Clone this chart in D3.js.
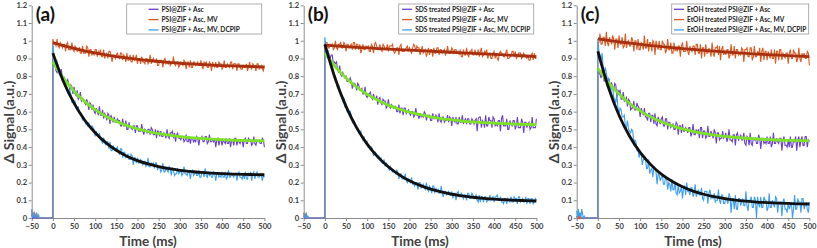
<!DOCTYPE html>
<html>
<head>
<meta charset="utf-8">
<script src="https://cdn.jsdelivr.net/npm/d3@7"></script>
<style>
  body { margin: 0; background: #fff; }
  svg { display: block; }
  text { font-family: Lato, "Open Sans", sans-serif; font-weight: 700; }
</style>
</head>
<body>
<div id="chart"></div>
<script>
////////////////////////////////////////////////////////////////////
////////////////////////////  Data  ////////////////////////////////
// raw traces read every 5 ms (0..500) plus the half steps (2.5..497.5), fits every 25 ms
const sampleTimes = d3.range(0, 501, 5);
const fitTimes = d3.range(0, 501, 25);
const preTimes = [-50, -48, -46, -44, -42, -40, -38, -36, -34, -32, -30, -28, 0];

const xTicks = [-50, 0, 50, 100, 150, 200, 250, 300, 350, 400, 450, 500];
const yTicks = [0, 0.1, 0.2, 0.3, 0.4, 0.5, 0.6, 0.7, 0.8, 0.9, 1, 1.1, 1.2];

const panelLabels = ["(a)", "(b)", "(c)"];
const legendA = ["PSI@ZIF + Asc", "PSI@ZIF + Asc, MV", "PSI@ZIF + Asc, MV, DCPIP"];
const legendB = ["SDS treated PSI@ZIF + Asc", "SDS treated PSI@ZIF + Asc, MV", "SDS treated PSI@ZIF + Asc, MV, DCPIP"];
const legendC = ["EtOH treated PSI@ZIF + Asc", "EtOH treated PSI@ZIF + Asc, MV", "EtOH treated PSI@ZIF + Asc, MV, DCPIP"];

// (a) PSI@ZIF
const prePurpleA = [0.02, 0, 0.01, 0, 0, 0.01, 0, 0, 0, 0, 0, 0, 0];
const preOrangeA = [0.04, 0.01, 0.02, 0.03, 0, 0.02, 0.01, 0, 0, 0, 0, 0, 0];
const preBlueA = [0.05, 0, 0.03, 0.01, 0, 0.01, 0.03, 0, 0.02, 0, 0, 0, 0];
const purpleA = [0.87,0.88,0.82,0.84,0.84, 0.77,0.77,0.78,0.72,0.74, 0.74,0.69,0.67,0.71,0.67,
  0.65,0.67,0.61,0.64,0.64, 0.59,0.60,0.63,0.58,0.56, 0.58,0.59,0.53,0.56,0.57,
  0.54,0.55,0.52,0.56,0.52, 0.50,0.54,0.51,0.52,0.48, 0.52,0.49,0.53,0.47,0.49,
  0.50,0.47,0.50,0.47,0.45, 0.49,0.49,0.46,0.47,0.50, 0.45,0.48,0.45,0.43,0.48,
  0.45,0.46,0.43,0.47,0.43, 0.42,0.45,0.44,0.46,0.41, 0.45,0.43,0.46,0.42,0.47,
  0.43,0.43,0.40,0.45,0.44, 0.41,0.43,0.45,0.42,0.40, 0.44,0.45,0.41,0.43,0.44,
  0.40,0.45,0.42,0.44,0.41, 0.46,0.41,0.43,0.42,0.45, 0.40];
const purpleAMid = [0.86,0.83,0.85,0.80,0.79, 0.79,0.76,0.76,0.75,0.70, 0.70,0.72,0.68,0.66,0.67,
  0.64,0.65,0.65,0.61,0.60, 0.62,0.58,0.58,0.61,0.59, 0.55,0.58,0.58,0.54,0.54,
  0.56,0.55,0.52,0.52,0.55, 0.50,0.51,0.50,0.52,0.52, 0.49,0.49,0.49,0.50,0.48,
  0.50,0.51,0.47,0.50,0.49, 0.46,0.46,0.48,0.45,0.46, 0.48,0.49,0.48,0.47,0.45,
  0.44,0.46,0.44,0.43,0.46, 0.45,0.43,0.43,0.45,0.45, 0.46,0.43,0.46,0.43,0.43,
  0.44,0.45,0.44,0.41,0.44, 0.44,0.42,0.42,0.45,0.44, 0.41,0.45,0.44,0.42,0.44,
  0.44,0.42,0.45,0.44,0.42, 0.42,0.44,0.44,0.42,0.44];
const orangeA = [1.01,0.98,1.01,0.96,0.98, 0.98,0.94,0.99,0.95,0.99, 0.94,0.96,0.95,0.93,0.97,
  0.93,0.97,0.91,0.95,0.93, 0.95,0.91,0.93,0.91,0.95, 0.92,0.90,0.94,0.88,0.92,
  0.92,0.91,0.93,0.89,0.91, 0.93,0.89,0.88,0.92,0.90, 0.87,0.90,0.91,0.88,0.90,
  0.87,0.92,0.89,0.88,0.90, 0.86,0.89,0.85,0.90,0.88, 0.89,0.87,0.91,0.86,0.88,
  0.86,0.87,0.89,0.84,0.88, 0.89,0.85,0.88,0.87,0.86, 0.89,0.84,0.87,0.85,0.88,
  0.83,0.86,0.88,0.85,0.87, 0.84,0.89,0.85,0.86,0.88, 0.84,0.87,0.83,0.87,0.84,
  0.86,0.85,0.83,0.88,0.84, 0.86,0.83,0.87,0.85,0.84, 0.86];
const orangeAMid = [0.98,0.97,0.97,0.99,0.96, 0.98,0.98,0.95,0.95,0.95, 0.97,0.94,0.96,0.93,0.93,
  0.93,0.96,0.95,0.92,0.92, 0.95,0.94,0.95,0.91,0.90, 0.93,0.94,0.92,0.92,0.90,
  0.93,0.90,0.93,0.92,0.88, 0.89,0.92,0.88,0.89,0.92, 0.90,0.87,0.88,0.87,0.90,
  0.88,0.87,0.90,0.88,0.86, 0.89,0.89,0.89,0.87,0.87, 0.86,0.87,0.87,0.88,0.85,
  0.88,0.86,0.88,0.88,0.85, 0.85,0.88,0.86,0.88,0.86, 0.86,0.88,0.88,0.85,0.87,
  0.88,0.85,0.85,0.88,0.87, 0.85,0.85,0.87,0.85,0.88, 0.87,0.87,0.87,0.85,0.84,
  0.85,0.87,0.85,0.85,0.87, 0.86,0.87,0.84,0.86,0.83];
const blueA = [0.98,0.89,0.88,0.81,0.81, 0.79,0.74,0.72,0.72,0.65, 0.66,0.62,0.63,0.59,0.55,
  0.56,0.53,0.54,0.50,0.51, 0.46,0.47,0.48,0.44,0.45, 0.41,0.43,0.43,0.38,0.39,
  0.39,0.37,0.39,0.34,0.37, 0.35,0.33,0.36,0.30,0.34, 0.34,0.31,0.32,0.32,0.29,
  0.34,0.29,0.30,0.28,0.31, 0.29,0.26,0.31,0.26,0.27, 0.29,0.24,0.27,0.25,0.28,
  0.26,0.24,0.29,0.25,0.26, 0.22,0.27,0.25,0.24,0.27, 0.23,0.26,0.28,0.23,0.24,
  0.23,0.26,0.21,0.25,0.24, 0.26,0.23,0.22,0.27,0.23, 0.24,0.25,0.21,0.26,0.23,
  0.25,0.26,0.22,0.24,0.21, 0.26,0.25,0.23,0.25,0.21, 0.23];
const blueAMid = [0.92,0.86,0.86,0.83,0.77, 0.75,0.74,0.70,0.70,0.67, 0.66,0.61,0.59,0.59,0.57,
  0.53,0.52,0.51,0.52,0.50, 0.49,0.46,0.44,0.42,0.44, 0.43,0.39,0.38,0.41,0.38,
  0.40,0.36,0.39,0.37,0.34, 0.36,0.33,0.35,0.34,0.31, 0.31,0.33,0.30,0.32,0.30,
  0.29,0.31,0.31,0.31,0.27, 0.29,0.27,0.26,0.28,0.26, 0.28,0.28,0.24,0.25,0.25,
  0.27,0.25,0.25,0.24,0.26, 0.26,0.24,0.26,0.24,0.23, 0.26,0.23,0.24,0.26,0.25,
  0.23,0.25,0.25,0.23,0.23, 0.23,0.26,0.23,0.23,0.25, 0.23,0.25,0.25,0.23,0.22,
  0.22,0.22,0.25,0.26,0.25, 0.22,0.26,0.23,0.25,0.24];
const mvFitA = [0.990,0.972,0.957,0.943,0.931,0.920,0.911,0.903,0.895,0.889,0.883,
  0.878,0.873,0.870,0.866,0.863,0.860,0.858,0.856,0.854,0.852];
const ascFitA = [0.880,0.789,0.716,0.658,0.611,0.574,0.545,0.522,0.503,0.488,0.476,
  0.467,0.459,0.453,0.449,0.445,0.442,0.439,0.438,0.436,0.435];
const dcpipFitA = [0.930,0.770,0.648,0.553,0.481,0.425,0.382,0.349,0.324,0.305,0.290,
  0.278,0.269,0.263,0.257,0.253,0.250,0.248,0.246,0.245,0.244];

// (b) SDS treated
const prePurpleB = [0.01, 0, 0, 0.01, 0, 0, 0, 0, 0, 0, 0, 0, 0];
const preOrangeB = [0.03, 0, 0.02, 0.01, 0, 0, 0, 0, 0, 0, 0, 0, 0];
const preBlueB = [0.02, 0.01, 0, 0.03, 0, 0.01, 0, 0, 0, 0, 0, 0, 0];
const purpleB = [0.96,0.93,0.92,0.92,0.87, 0.87,0.84,0.86,0.80,0.80, 0.80,0.77,0.79,0.73,0.76,
  0.72,0.75,0.72,0.70,0.74, 0.68,0.70,0.68,0.70,0.67, 0.64,0.68,0.64,0.66,0.62,
  0.67,0.62,0.63,0.63,0.60, 0.64,0.62,0.58,0.62,0.60, 0.59,0.60,0.57,0.62,0.58,
  0.59,0.58,0.60,0.55,0.58, 0.55,0.59,0.56,0.57,0.59, 0.54,0.57,0.55,0.58,0.57,
  0.52,0.55,0.57,0.53,0.54, 0.58,0.55,0.53,0.56,0.53, 0.55,0.55,0.49,0.57,0.51,
  0.54,0.58,0.52,0.55,0.51, 0.56,0.53,0.55,0.49,0.58, 0.52,0.56,0.50,0.53,0.55,
  0.50,0.57,0.51,0.56,0.48, 0.54,0.53,0.50,0.57,0.51, 0.56];
const purpleBMid = [0.92,0.94,0.90,0.92,0.88, 0.88,0.82,0.81,0.82,0.79, 0.77,0.77,0.77,0.76,0.75,
  0.76,0.72,0.73,0.70,0.69, 0.70,0.71,0.67,0.67,0.69, 0.67,0.65,0.67,0.66,0.63,
  0.63,0.64,0.62,0.63,0.60, 0.59,0.62,0.62,0.59,0.61, 0.58,0.60,0.58,0.58,0.56,
  0.57,0.57,0.59,0.58,0.58, 0.55,0.56,0.58,0.54,0.55, 0.57,0.54,0.55,0.54,0.56,
  0.57,0.54,0.53,0.57,0.54, 0.53,0.56,0.56,0.53,0.56, 0.53,0.56,0.56,0.57,0.55,
  0.51,0.52,0.57,0.55,0.57, 0.52,0.52,0.55,0.56,0.52, 0.52,0.50,0.55,0.52,0.55,
  0.52,0.51,0.51,0.54,0.54, 0.51,0.54,0.51,0.51,0.51];
const orangeB = [0.98,0.99,0.96,0.97,0.95, 1.00,0.95,0.98,0.96,0.99, 0.94,0.98,0.97,0.95,0.99,
  0.98,0.95,0.93,0.98,0.95, 0.96,0.94,0.98,0.93,0.99, 0.95,0.98,0.94,0.97,0.95,
  0.94,0.97,0.98,0.93,0.96, 0.92,0.98,0.94,0.95,0.97, 0.96,0.93,0.98,0.94,0.96,
  0.92,0.97,0.94,0.91,0.96, 0.95,0.91,0.93,0.96,0.92, 0.95,0.94,0.92,0.97,0.93,
  0.96,0.93,0.95,0.94,0.95, 0.91,0.92,0.96,0.91,0.94, 0.92,0.95,0.92,0.91,0.96,
  0.92,0.93,0.90,0.93,0.90, 0.94,0.93,0.89,0.94,0.92, 0.91,0.95,0.90,0.91,0.94,
  0.94,0.91,0.93,0.90,0.93, 0.91,0.92,0.89,0.93,0.93, 0.90];
const orangeBMid = [0.99,0.96,0.98,0.98,0.96, 0.96,0.98,0.99,0.96,0.98, 0.98,0.96,0.98,0.99,0.95,
  0.98,0.98,0.95,0.95,0.97, 0.97,0.94,0.97,0.98,0.97, 0.95,0.95,0.98,0.95,0.98,
  0.97,0.97,0.94,0.94,0.96, 0.97,0.94,0.94,0.96,0.94, 0.94,0.96,0.97,0.97,0.96,
  0.94,0.93,0.95,0.93,0.92, 0.95,0.96,0.93,0.96,0.95, 0.93,0.95,0.93,0.93,0.93,
  0.95,0.95,0.93,0.92,0.91, 0.95,0.92,0.92,0.94,0.95, 0.92,0.92,0.95,0.94,0.91,
  0.94,0.95,0.92,0.90,0.93, 0.90,0.90,0.93,0.93,0.91, 0.93,0.90,0.91,0.94,0.91,
  0.90,0.93,0.93,0.91,0.92, 0.90,0.89,0.92,0.89,0.90];
const blueB = [1.02,0.93,0.92,0.86,0.83, 0.80,0.73,0.72,0.68,0.68, 0.64,0.60,0.60,0.54,0.54,
  0.51,0.48,0.49,0.44,0.43, 0.43,0.40,0.40,0.35,0.37, 0.34,0.33,0.31,0.33,0.31,
  0.28,0.29,0.26,0.26,0.27, 0.22,0.25,0.22,0.25,0.20, 0.21,0.23,0.19,0.20,0.16,
  0.20,0.18,0.17,0.20,0.15, 0.17,0.18,0.14,0.15,0.14, 0.18,0.12,0.15,0.14,0.13,
  0.15,0.14,0.10,0.15,0.12, 0.13,0.13,0.10,0.14,0.11, 0.13,0.12,0.10,0.13,0.12,
  0.09,0.12,0.10,0.13,0.11, 0.09,0.12,0.10,0.12,0.09, 0.11,0.08,0.10,0.12,0.09,
  0.11,0.08,0.12,0.10,0.09, 0.12,0.11,0.08,0.11,0.09, 0.10];
const blueBMid = [0.97,0.94,0.87,0.86,0.79, 0.77,0.75,0.71,0.66,0.63, 0.60,0.59,0.58,0.55,0.52,
  0.51,0.48,0.46,0.46,0.42, 0.40,0.39,0.39,0.37,0.35, 0.35,0.34,0.31,0.29,0.30,
  0.27,0.27,0.27,0.25,0.26, 0.25,0.22,0.22,0.21,0.22, 0.20,0.19,0.18,0.20,0.20,
  0.17,0.19,0.16,0.16,0.18, 0.14,0.18,0.17,0.16,0.14, 0.14,0.15,0.13,0.15,0.13,
  0.11,0.14,0.14,0.12,0.14, 0.11,0.13,0.14,0.11,0.14, 0.11,0.13,0.09,0.09,0.12,
  0.12,0.09,0.10,0.10,0.12, 0.12,0.13,0.10,0.09,0.08, 0.11,0.11,0.09,0.09,0.12,
  0.11,0.12,0.09,0.11,0.09, 0.08,0.11,0.11,0.08,0.11];
const mvFitB = [0.975,0.971,0.967,0.963,0.960,0.956,0.953,0.950,0.947,0.944,0.941,
  0.938,0.935,0.932,0.929,0.926,0.923,0.920,0.917,0.914,0.911];
const ascFitB = [0.930,0.853,0.790,0.739,0.698,0.665,0.637,0.615,0.597,0.583,0.571,
  0.561,0.554,0.547,0.542,0.538,0.535,0.532,0.530,0.528,0.526];
const dcpipFitB = [0.980,0.783,0.630,0.510,0.417,0.345,0.289,0.245,0.210,0.184,0.163,
  0.147,0.134,0.125,0.117,0.111,0.106,0.103,0.100,0.098,0.096];

// (c) EtOH treated
const prePurpleC = [0.01, 0, 0, 0.01, 0, 0, 0, 0, 0, 0, 0, 0, 0];
const preOrangeC = [0.01, 0, 0.02, 0, 0.01, 0, 0, 0, 0, 0, 0, 0, 0];
const preBlueC = [0.04, 0, 0.05, 0.01, 0.03, 0, 0.05, 0.02, 0, 0.01, 0, 0, 0];
const purpleC = [0.81,0.81,0.83,0.77,0.80, 0.79,0.74,0.74,0.76,0.68, 0.71,0.67,0.71,0.67,0.63,
  0.66,0.62,0.66,0.61,0.63, 0.57,0.60,0.62,0.57,0.59, 0.54,0.58,0.59,0.52,0.55,
  0.56,0.52,0.56,0.50,0.54, 0.52,0.50,0.54,0.47,0.52, 0.53,0.49,0.50,0.51,0.46,
  0.53,0.47,0.48,0.45,0.51, 0.49,0.45,0.52,0.46,0.47, 0.50,0.42,0.48,0.45,0.49,
  0.46,0.43,0.50,0.44,0.47, 0.41,0.48,0.45,0.44,0.48, 0.41,0.45,0.48,0.41,0.44,
  0.42,0.47,0.39,0.45,0.43, 0.46,0.42,0.40,0.48,0.42, 0.43,0.45,0.38,0.46,0.41,
  0.44,0.46,0.40,0.43,0.38, 0.46,0.44,0.41,0.46,0.40, 0.43];
const purpleCMid = [0.83,0.79,0.82,0.80,0.74, 0.74,0.76,0.72,0.75,0.72, 0.72,0.67,0.66,0.68,0.67,
  0.61,0.62,0.61,0.65,0.62, 0.62,0.58,0.57,0.55,0.59, 0.58,0.53,0.53,0.57,0.53,
  0.57,0.52,0.56,0.54,0.51, 0.53,0.50,0.53,0.52,0.48, 0.49,0.51,0.48,0.51,0.48,
  0.47,0.50,0.50,0.51,0.45, 0.49,0.46,0.46,0.49,0.45, 0.48,0.48,0.44,0.45,0.45,
  0.48,0.45,0.44,0.43,0.47, 0.47,0.44,0.47,0.44,0.42, 0.46,0.41,0.42,0.45,0.45,
  0.42,0.45,0.45,0.42,0.42, 0.42,0.46,0.42,0.42,0.45, 0.42,0.45,0.44,0.41,0.40,
  0.40,0.40,0.44,0.46,0.44, 0.40,0.46,0.41,0.46,0.44];
const orangeC = [0.99,1.04,0.98,1.02,1.05, 0.97,1.00,1.03,0.95,1.01, 1.03,0.98,0.96,1.04,0.99,
  0.97,1.02,0.94,1.00,1.01, 0.95,0.98,1.03,0.96,0.94, 0.99,1.00,0.92,0.97,1.00,
  0.95,0.98,0.93,1.01,0.95, 0.93,0.99,0.96,0.97,0.91, 0.99,0.94,1.00,0.92,0.95,
  0.97,0.92,0.98,0.93,0.90, 0.96,0.98,0.93,0.94,0.99, 0.91,0.96,0.92,0.89,0.97,
  0.94,0.95,0.90,0.98,0.92, 0.90,0.95,0.93,0.96,0.88, 0.95,0.91,0.96,0.89,0.97,
  0.91,0.92,0.88,0.96,0.94, 0.89,0.92,0.95,0.90,0.87, 0.94,0.95,0.89,0.92,0.93,
  0.87,0.95,0.90,0.93,0.88, 0.96,0.88,0.91,0.90,0.94, 0.86];
const orangeCMid = [0.99,0.98,1.02,0.97,0.99, 1.02,0.98,1.01,1.01,0.96, 0.98,1.02,0.97,0.96,1.00,
  0.97,1.00,1.00,0.95,0.95, 0.99,0.95,0.96,1.01,0.99, 0.94,0.99,1.00,0.95,0.95,
  1.00,0.98,0.95,0.95,0.99, 0.93,0.94,0.94,0.97,0.97, 0.94,0.94,0.94,0.97,0.94,
  0.97,0.98,0.93,0.98,0.96, 0.91,0.93,0.96,0.91,0.93, 0.96,0.97,0.97,0.95,0.92,
  0.92,0.95,0.92,0.92,0.97, 0.95,0.92,0.92,0.95,0.95, 0.96,0.91,0.96,0.91,0.91,
  0.94,0.96,0.94,0.89,0.94, 0.94,0.90,0.90,0.95,0.94, 0.89,0.95,0.93,0.90,0.93,
  0.93,0.90,0.95,0.93,0.90, 0.90,0.93,0.93,0.90,0.93];
const blueC = [1.01,0.92,0.93,0.82,0.82, 0.79,0.70,0.74,0.67,0.70, 0.59,0.61,0.57,0.52,0.55,
  0.49,0.50,0.42,0.43,0.38, 0.37,0.30,0.33,0.28,0.33, 0.27,0.23,0.28,0.19,0.24,
  0.23,0.19,0.23,0.16,0.19, 0.22,0.16,0.14,0.19,0.15, 0.11,0.18,0.20,0.15,0.17,
  0.12,0.19,0.14,0.13,0.17, 0.10,0.15,0.08,0.16,0.12, 0.14,0.10,0.16,0.08,0.13,
  0.08,0.10,0.14,0.03,0.11, 0.13,0.05,0.11,0.09,0.07, 0.15,0.04,0.10,0.06,0.12,
  0.00,0.08,0.12,0.06,0.10, 0.04,0.14,0.06,0.08,0.12, 0.03,0.09,0.01,0.11,0.05,
  0.09,0.07,0.00,0.13,0.05, 0.09,0.03,0.11,0.07,0.05, 0.09];
const blueCMid = [0.94,0.89,0.85,0.85,0.78, 0.78,0.75,0.68,0.65,0.62, 0.62,0.57,0.58,0.51,0.50,
  0.48,0.49,0.44,0.38,0.34, 0.36,0.33,0.34,0.28,0.25, 0.28,0.29,0.26,0.25,0.21,
  0.24,0.19,0.23,0.20,0.15, 0.16,0.20,0.13,0.14,0.18, 0.17,0.13,0.15,0.13,0.17,
  0.14,0.12,0.16,0.13,0.11, 0.15,0.15,0.14,0.11,0.11, 0.09,0.10,0.10,0.13,0.08,
  0.12,0.08,0.12,0.11,0.05, 0.05,0.11,0.07,0.11,0.07, 0.07,0.10,0.12,0.06,0.10,
  0.12,0.06,0.06,0.12,0.10, 0.06,0.06,0.10,0.06,0.11, 0.09,0.09,0.09,0.05,0.03,
  0.05,0.09,0.05,0.05,0.11, 0.09,0.11,0.05,0.09,0.03];
const mvFitC = [1.010,1.002,0.994,0.987,0.980,0.973,0.967,0.961,0.956,0.951,0.946,
  0.941,0.937,0.933,0.929,0.925,0.922,0.919,0.916,0.913,0.910];
const ascFitC = [0.845,0.764,0.699,0.646,0.604,0.570,0.543,0.521,0.503,0.489,0.477,
  0.468,0.461,0.455,0.450,0.446,0.443,0.440,0.438,0.437,0.435];
const dcpipFitC = [0.940,0.736,0.580,0.461,0.370,0.301,0.247,0.207,0.176,0.152,0.134,
  0.120,0.109,0.101,0.095,0.090,0.087,0.084,0.082,0.080,0.079];

////////////////////////////////////////////////////////////////////
////////////////////////////  Init  ////////////////////////////////
const width = 817;
const height = 248;
const rawColors = ["#6a3fcc", "#dc5a24", "#3d9ef2"]; // Asc, MV, DCPIP
const fitColors = ["#a8300e", "#7ce324", "#111111"]; // MV fit, Asc fit, DCPIP fit
const axisColor = "#8a8a8a";
const textColor = "#404040";

const panelLeft = [31.7, 303.7, 576.7];
const plotW = 232.7;
const plotTop = 5.3;
const plotBottom = 218;

const panels = [
  { label: panelLabels[0], legend: legendA, pre: [prePurpleA, preOrangeA, preBlueA],
    raw: [purpleA, orangeA, blueA], mid: [purpleAMid, orangeAMid, blueAMid],
    fits: [mvFitA, ascFitA, dcpipFitA] },
  { label: panelLabels[1], legend: legendB, pre: [prePurpleB, preOrangeB, preBlueB],
    raw: [purpleB, orangeB, blueB], mid: [purpleBMid, orangeBMid, blueBMid],
    fits: [mvFitB, ascFitB, dcpipFitB] },
  { label: panelLabels[2], legend: legendC, pre: [prePurpleC, preOrangeC, preBlueC],
    raw: [purpleC, orangeC, blueC], mid: [purpleCMid, orangeCMid, blueCMid],
    fits: [mvFitC, ascFitC, dcpipFitC] },
];

const svg = d3.select("#chart").append("svg")
  .attr("width", width)
  .attr("height", height);

const drawPanel = (p, idx) => {
  const left = panelLeft[idx];
  const x = d3.scaleLinear().domain([-50, 500]).range([left, left + plotW]);
  const y = d3.scaleLinear().domain([0, 1.2]).range([plotBottom, plotTop]);
  const g = svg.append("g");

  // axes
  const yAxis = g.append("g")
    .attr("transform", `translate(${left},0)`)
    .call(d3.axisLeft(y).tickValues(yTicks).tickSize(3).tickSizeOuter(0)
      .tickFormat((d) => String(+d.toFixed(1))));
  const xAxis = g.append("g")
    .attr("transform", `translate(0,${plotBottom})`)
    .call(d3.axisBottom(x).tickValues(xTicks).tickSize(3).tickSizeOuter(0));
  [yAxis, xAxis].forEach((a) => {
    a.select(".domain").attr("stroke", axisColor).attr("stroke-width", 1);
    a.selectAll(".tick line").attr("stroke", axisColor);
    a.selectAll(".tick text")
      .attr("fill", textColor)
      .style("font-family", "Lato, sans-serif")
      .style("font-weight", 700)
      .style("font-size", "7.6px");
  });
  yAxis.selectAll(".tick text").attr("x", -4.5);
  xAxis.selectAll(".tick text").attr("y", 5.5);

  // titles
  g.append("text")
    .attr("x", (x.range()[0] + x.range()[1]) / 2)
    .attr("y", 245.5)
    .attr("text-anchor", "middle")
    .attr("fill", textColor)
    .style("font-size", "13.5px")
    .text("Time (ms)");
  g.append("text")
    .attr("transform", `translate(${left - 18},${122}) rotate(-90)`)
    .attr("text-anchor", "middle")
    .attr("fill", textColor)
    .style("font-size", "14px")
    .text("\u0394 Signal (a.u.)");

  // raw traces: pre-trigger part, then main samples with the half steps between them
  const line = d3.line().x((d) => x(d[0])).y((d) => y(d[1]));
  p.raw.forEach((vals, i) => {
    const pts = preTimes.map((t, j) => [t, p.pre[i][j]]);
    sampleTimes.forEach((t, j) => {
      pts.push([t, vals[j]]);
      if (j < p.mid[i].length) pts.push([t + 2.5, p.mid[i][j]]);
    });
    g.append("path")
      .datum(pts)
      .attr("d", line)
      .attr("fill", "none")
      .attr("stroke", rawColors[i])
      .attr("stroke-width", 1.1);
  });

  // fits
  const fitLine = d3.line().x((d) => x(d[0])).y((d) => y(d[1])).curve(d3.curveMonotoneX);
  p.fits.forEach((vals, i) => {
    g.append("path")
      .datum(fitTimes.map((t, j) => [t, vals[j]]))
      .attr("d", fitLine)
      .attr("fill", "none")
      .attr("stroke", fitColors[i])
      .attr("stroke-width", 2.8);
  });

  // panel label
  g.append("text")
    .attr("x", left + 4)
    .attr("y", 21)
    .attr("fill", "#111")
    .style("font-size", "19px")
    .text(p.label);

  // legend
  const boxX = left + 95;
  const boxW = idx === 2 ? 137 : 135;
  const lg = g.append("g");
  lg.append("rect")
    .attr("x", boxX).attr("y", 4)
    .attr("width", boxW).attr("height", 30)
    .attr("fill", "#fff")
    .attr("stroke", "#9a9a9a")
    .attr("stroke-width", 0.8);
  const texts = p.legend.map((d, i) => lg.append("text")
    .attr("y", 11.6 + i * 10.3)
    .attr("fill", "#222")
    .style("font-size", "6.6px")
    .text(d));
  const maxW = d3.max(texts, (t) => t.node().getComputedTextLength());
  const blockX = boxX + (boxW - (maxW + 13)) / 2;
  texts.forEach((t, i) => {
    t.attr("x", blockX + 13);
    lg.append("line")
      .attr("x1", blockX).attr("x2", blockX + 10)
      .attr("y1", 9.3 + i * 10.3).attr("y2", 9.3 + i * 10.3)
      .attr("stroke", rawColors[i])
      .attr("stroke-width", 1.3);
  });
};

panels.forEach(drawPanel);
</script>
</body>
</html>
